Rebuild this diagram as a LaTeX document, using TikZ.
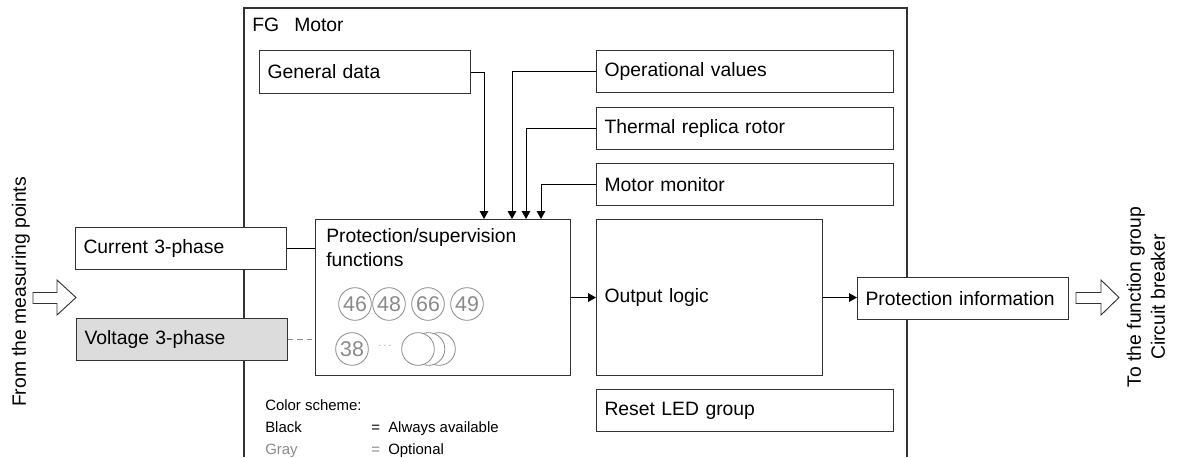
\documentclass[tikz,border=0pt]{standalone}
\usepackage{fontspec}
\setmainfont{Liberation Sans}
\usetikzlibrary{arrows.meta,calc}
\definecolor{bord}{HTML}{333333}
\definecolor{optg}{HTML}{8A8A8A}
\definecolor{volfill}{HTML}{DCDCDC}
\begin{document}
\begin{tikzpicture}[x=0.75pt,y=-0.75pt,
  every node/.style={font=\fontsize{14.5}{18}\selectfont},
  bx/.style={draw=bord, line width=0.8pt, fill=white, anchor=north west,
    inner xsep=6pt, inner ysep=0pt, align=left},
  wide/.style={text width=210.75pt, minimum height=31.5pt},
  mid/.style={text width=146.25pt, minimum height=31.5pt},
  big/.style={minimum height=117pt},
  arr/.style={line width=0.75pt, -{Triangle[length=6pt,width=6.5pt]}},
  conn/.style={line width=0.75pt},
  fn/.style={circle, draw=optg, line width=0.6pt, minimum size=24.5pt, inner sep=0pt, text=optg, fill=white, font=\fontsize{16}{18}\selectfont},
  lg/.style={anchor=base west, inner sep=0pt, font=\fontsize{11.2}{13}\selectfont},
  hollow/.style={draw=bord, line width=0.7pt, fill=white}
]
\useasboundingbox (0,0) rectangle (1178,457);

% frame of function group
\draw[draw=bord, line width=0.8pt] (244,457) -- (244,8) -- (907,8) -- (907,457);
\node[anchor=west, inner sep=0pt] (fg) at (252,25) {FG};
\node[anchor=west, inner sep=0pt] (motor) at (294,25) {Motor};

% boxes
\node[bx, text width=146.25pt, minimum height=32.25pt] (gen) at (259,50) {General data};
\node[bx, wide] (opv) at (596,50) {Operational values};
\node[bx, wide] (thr) at (596,107) {Thermal replica rotor};
\node[bx, wide] (mon) at (596,163) {Motor monitor};
\node[bx, big, minimum width=191.25pt] (prot) at (315,219) {};
\node[anchor=west, inner sep=0pt, align=left] (prottxt) at (326,248) {Protection/supervision\\functions};
\node[bx, big, text width=157.5pt] (outl) at (596,219) {Output logic};
\node[bx, wide] (rst) at (596,389) {Reset LED group};
\node[bx, mid] (cur) at (75,227) {Current 3-phase};
\node[bx, mid, fill=volfill] (vol) at (76,318) {Voltage 3-phase};
\node[bx, mid] (pinfo) at (857,277) {Protection information};

% function circles
\node[fn] (c46) at (355,304) {46};
\node[fn] (c48) at (389,304) {48};
\node[fn] (c66) at (428,304) {66};
\node[fn] (c49) at (467,304) {49};
\node[fn] (c38) at (352,349) {38};
\node[text=optg, inner sep=0pt, font=\fontsize{8}{9}\selectfont] (dots) at (385,346) {$\cdots$};
\node[fn] (s3) at (439,349) {};
\node[fn] (s2) at (428.5,349) {};
\node[fn] (s1) at (418,349) {};

% connectors
\draw[arr] (gen.east) -| ([xshift=126.75pt]prot.north west);
\draw[arr] (opv.west) -| ([xshift=147.75pt]prot.north west);
\draw[arr] (thr.west) -| ([xshift=158.25pt]prot.north west);
\draw[arr] (mon.west) -| ([xshift=169.5pt]prot.north west);
\draw[conn] (cur.east) -- (cur.east -| prot.west);
\draw[conn, optg, dashed, dash pattern=on 4pt off 3pt] (vol.east) -- (vol.east -| prot.west);
\draw[arr] (prot.east) -- (outl.west);
\draw[arr] (outl.east) -- (outl.east -| pinfo.west);

% hollow arrows
\draw[hollow] (33,292.5) -- (57,292.5) -- (57,280) -- (76,297.5) -- (57,315) -- (57,303.5) -- (33,303.5) -- cycle;
\draw[hollow] (1076,292.5) -- (1101,292.5) -- (1101,280) -- (1119,297.5) -- (1101,315) -- (1101,303.5) -- (1076,303.5) -- cycle;

% outside labels
\node[rotate=90, inner sep=0pt] (src) at (21,292) {From the measuring points};
\node[rotate=90, inner sep=0pt, align=center] (dst) at (1146,297) {To the function group\\Circuit breaker};

% legend
\node[lg] (lgt) at (265,410) {Color scheme:};
\node[lg] (lgb) at (265,432) {Black};
\node[lg, text=optg] (lgg) at (265,454) {Gray};
\node[lg] (lgbv) at (371,432) {=\ \ Always available};
\node[lg] (lggv) at (371,454) {\textcolor{optg}{=}\ \ Optional};
\end{tikzpicture}
\end{document}
